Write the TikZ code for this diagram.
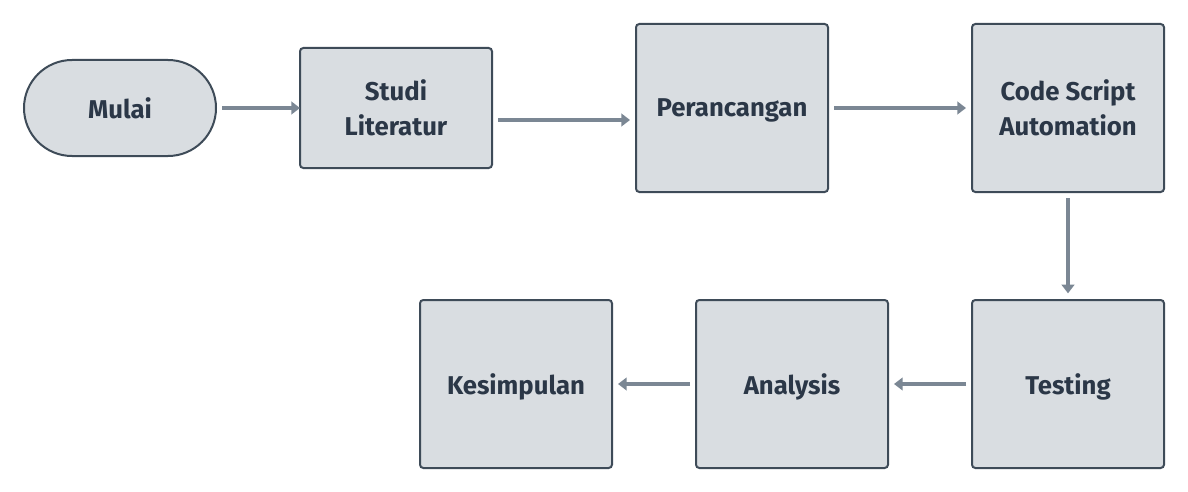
\documentclass[tikz,border=0pt]{standalone}
\usepackage{fontspec}
\setmainfont{Fira Sans}
\usetikzlibrary{arrows.meta}
\definecolor{boxfill}{HTML}{D9DDE1}
\definecolor{boxline}{HTML}{3E4B58}
\definecolor{boxtext}{HTML}{2B3747}
\definecolor{arrowcol}{HTML}{7B8794}
\begin{document}
\begin{tikzpicture}[x=0.75pt,y=-0.75pt,
  stepbox/.style={draw=boxline,fill=boxfill,line width=1.5pt,rounded corners=2.5pt,
    minimum width=144pt,minimum height=126pt,outer sep=0pt,inner sep=0pt,
    text=boxtext,font=\fontsize{19.3}{26.5}\selectfont\bfseries,align=center},
  onebox/.style={stepbox,text depth=0pt},
  startbox/.style={stepbox,minimum height=72pt,rounded corners=36pt},
  midbox/.style={stepbox,minimum height=90pt},
  flow/.style={draw=arrowcol,line width=3pt,-{Triangle[length=6.5pt,width=9.5pt]}}]
\useasboundingbox (0,0) rectangle (1188,492);
\node[startbox] (mulai) at (120,108) {Mulai};
\node[midbox] (studi) at (396,108) {Studi\\Literatur};
\node[onebox] (peran) at (732,108) {Perancangan};
\node[stepbox] (code) at (1068,108) {Code Script\\Automation};
\node[onebox] (test) at (1068,384) {Testing};
\node[onebox] (anal) at (792,384) {Analysis};
\node[onebox] (kes) at (516,384) {Kesimpulan};
\draw[flow,shorten <=4.5pt] (mulai.east) -- (studi.west);
\draw[flow,shorten <=4.5pt,shorten >=4.5pt] ([yshift=-9pt]studi.east) -- ([yshift=-9pt]studi.east -| peran.west);
\draw[flow,shorten <=4.5pt,shorten >=4.5pt] (peran.east) -- (code.west);
\draw[flow,shorten <=4.5pt,shorten >=5pt] (code.south) -- (test.north);
\draw[flow,shorten <=4.5pt,shorten >=4.5pt] (test.west) -- (anal.east);
\draw[flow,shorten <=4.5pt,shorten >=4.5pt] (anal.west) -- (kes.east);
\end{tikzpicture}
\end{document}
